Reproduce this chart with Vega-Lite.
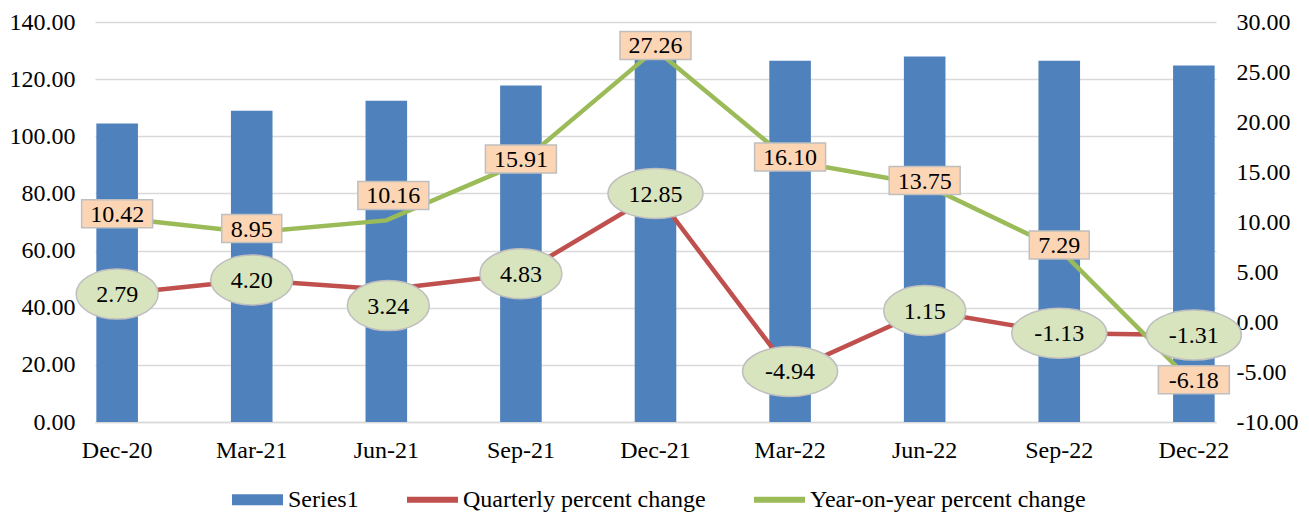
{
  "$schema": "https://vega.github.io/schema/vega-lite/v6.json",
  "width": 1121,
  "height": 400,
  "autosize": {"type": "none"},
  "padding": {"left": 95, "top": 22, "right": 93, "bottom": 92},
  "config": {
    "font": "Liberation Serif",
    "view": {"stroke": null},
    "locale": {"number": {"decimal": ".", "thousands": ",", "grouping": [3], "currency": ["$", ""], "minus": "-"}},
    "axis": {"labelFont": "Liberation Serif", "labelFontSize": 24, "labelColor": "#000000", "title": null}
  },
  "data": {
    "values": [
      {"q": "Dec-20", "series": "Series1", "value": 104.5},
      {"q": "Mar-21", "series": "Series1", "value": 108.9},
      {"q": "Jun-21", "series": "Series1", "value": 112.4},
      {"q": "Sep-21", "series": "Series1", "value": 117.8},
      {"q": "Dec-21", "series": "Series1", "value": 132.9},
      {"q": "Mar-22", "series": "Series1", "value": 126.4},
      {"q": "Jun-22", "series": "Series1", "value": 127.9},
      {"q": "Sep-22", "series": "Series1", "value": 126.4},
      {"q": "Dec-22", "series": "Series1", "value": 124.8},
      {"q": "Dec-20", "series": "Quarterly percent change", "value": 2.79},
      {"q": "Mar-21", "series": "Quarterly percent change", "value": 4.20},
      {"q": "Jun-21", "series": "Quarterly percent change", "value": 3.24},
      {"q": "Sep-21", "series": "Quarterly percent change", "value": 4.83},
      {"q": "Dec-21", "series": "Quarterly percent change", "value": 12.85},
      {"q": "Mar-22", "series": "Quarterly percent change", "value": -4.94},
      {"q": "Jun-22", "series": "Quarterly percent change", "value": 1.15},
      {"q": "Sep-22", "series": "Quarterly percent change", "value": -1.13},
      {"q": "Dec-22", "series": "Quarterly percent change", "value": -1.31},
      {"q": "Dec-20", "series": "Year-on-year percent change", "value": 10.42},
      {"q": "Mar-21", "series": "Year-on-year percent change", "value": 8.95},
      {"q": "Jun-21", "series": "Year-on-year percent change", "value": 10.16},
      {"q": "Sep-21", "series": "Year-on-year percent change", "value": 15.91},
      {"q": "Dec-21", "series": "Year-on-year percent change", "value": 27.26},
      {"q": "Mar-22", "series": "Year-on-year percent change", "value": 16.10},
      {"q": "Jun-22", "series": "Year-on-year percent change", "value": 13.75},
      {"q": "Sep-22", "series": "Year-on-year percent change", "value": 7.29},
      {"q": "Dec-22", "series": "Year-on-year percent change", "value": -6.18}
    ]
  },
  "encoding": {
    "x": {
      "field": "q", "type": "nominal", "sort": null,
      "scale": {"paddingInner": 0.691, "paddingOuter": 0.01},
      "axis": {"labelAngle": 0, "domain": true, "domainColor": "#D9D9D9", "domainWidth": 1.5, "ticks": false, "labelPadding": 16, "title": null}
    }
  },
  "layer": [
    {
      "transform": [{"filter": "datum.series == 'Series1'"}],
      "mark": {"type": "bar", "clip": false},
      "encoding": {
        "y": {
          "field": "value", "type": "quantitative",
          "scale": {"domain": [0, 140], "nice": false, "zero": false},
          "axis": {"values": [0, 20, 40, 60, 80, 100, 120, 140], "format": ".2f", "grid": true, "gridColor": "#D9D9D9", "gridWidth": 1.5, "domain": false, "ticks": false, "labelPadding": 20, "title": null}
        },
        "color": {
          "field": "series", "type": "nominal",
          "scale": {"domain": ["Series1", "Quarterly percent change", "Year-on-year percent change"], "range": ["#4F81BD", "#C0504D", "#9BBB59"]},
          "legend": {
            "title": null, "orient": "none", "direction": "horizontal", "legendX": 137, "legendY": 452,
            "columnPadding": 48, "labelFontSize": 24, "labelFont": "Liberation Serif", "labelColor": "#000000",
            "labelOffset": 5, "labelLimit": 0, "symbolSize": 2601, "symbolStrokeWidth": 0, "symbolOpacity": 1,
            "symbolType": "M-1,-0.12L1,-0.12L1,0.12L-1,0.12Z",
            "encode": {
              "symbols": {
                "update": {
                  "shape": {"signal": "datum.value === 'Series1' ? 'M-1,-0.22L1,-0.22L1,0.22L-1,0.22Z' : 'M-1,-0.12L1,-0.12L1,0.12L-1,0.12Z'"},
                  "fill": {"scale": "color", "field": "value"},
                  "strokeWidth": {"value": 0},
                  "opacity": {"value": 1}
                }
              }
            }
          }
        }
      }
    },
    {
      "encoding": {
        "y": {
          "field": "value", "type": "quantitative",
          "scale": {"domain": [-10, 30], "nice": false, "zero": false},
          "axis": {"orient": "right", "values": [-10, -5, 0, 5, 10, 15, 20, 25, 30], "format": ".2f", "grid": false, "domain": false, "ticks": false, "labelPadding": 20, "title": null}
        }
      },
      "layer": [
        {
          "transform": [{"filter": "datum.series == 'Quarterly percent change'"}],
          "mark": {"type": "line", "strokeWidth": 4.5},
          "encoding": {"color": {"field": "series", "type": "nominal"}}
        },
        {
          "transform": [{"filter": "datum.series == 'Year-on-year percent change'"}],
          "mark": {"type": "line", "strokeWidth": 4.5},
          "encoding": {"color": {"field": "series", "type": "nominal"}}
        },
        {
          "transform": [{"filter": "datum.series == 'Quarterly percent change' && datum.q != 'Jun-21'"}],
          "mark": {"type": "point", "filled": true, "fill": "#D7E4BD", "stroke": "#BFBFBF", "strokeWidth": 1.5, "opacity": 1},
          "encoding": {
            "shape": {"condition": {"test": "datum.value >= 0 && datum.value < 10", "value": "M1,0C1,0.337,0.552,0.61,0,0.61C-0.552,0.61,-1,0.337,-1,0C-1,-0.337,-0.552,-0.61,0,-0.61C0.552,-0.61,1,-0.337,1,0Z"}, "value": "M1,0C1,0.29,0.552,0.526,0,0.526C-0.552,0.526,-1,0.29,-1,0C-1,-0.29,-0.552,-0.526,0,-0.526C0.552,-0.526,1,-0.29,1,0Z"},
            "size": {"condition": {"test": "datum.value >= 0 && datum.value < 10", "value": 6724}, "value": 9025}
          }
        },
        {
          "transform": [{"filter": "datum.series == 'Quarterly percent change' && datum.q == 'Jun-21'"}],
          "mark": {"type": "point", "filled": true, "fill": "#D7E4BD", "stroke": "#BFBFBF", "strokeWidth": 1.5, "opacity": 1, "yOffset": 16, "xOffset": 2, "size": 6724, "shape": "M1,0C1,0.337,0.552,0.61,0,0.61C-0.552,0.61,-1,0.337,-1,0C-1,-0.337,-0.552,-0.61,0,-0.61C0.552,-0.61,1,-0.337,1,0Z"},
          "encoding": {}
        },
        {
          "transform": [{"filter": "datum.series == 'Quarterly percent change' && datum.q != 'Jun-21'"}],
          "mark": {"type": "text", "font": "Liberation Serif", "fontSize": 24, "color": "#000000", "baseline": "middle", "align": "center", "dy": 1},
          "encoding": {"text": {"field": "value", "type": "quantitative", "format": ".2f"}}
        },
        {
          "transform": [{"filter": "datum.series == 'Quarterly percent change' && datum.q == 'Jun-21'"}],
          "mark": {"type": "text", "font": "Liberation Serif", "fontSize": 24, "color": "#000000", "baseline": "middle", "align": "center", "dy": 17, "dx": 2},
          "encoding": {"text": {"field": "value", "type": "quantitative", "format": ".2f"}}
        },
        {
          "transform": [{"filter": "datum.series == 'Year-on-year percent change' && datum.q != 'Jun-21'"}],
          "mark": {"type": "point", "filled": true, "fill": "#FCD5B5", "stroke": "#BFBFBF", "strokeWidth": 1.5, "opacity": 1, "yOffset": -4},
          "encoding": {
            "shape": {"condition": {"test": "datum.value >= 0 && datum.value < 10", "value": "M-1,-0.467L1,-0.467L1,0.467L-1,0.467Z"}, "value": "M-1,-0.394L1,-0.394L1,0.394L-1,0.394Z"},
            "size": {"condition": {"test": "datum.value >= 0 && datum.value < 10", "value": 3600}, "value": 5041}
          }
        },
        {
          "transform": [{"filter": "datum.series == 'Year-on-year percent change' && datum.q != 'Jun-21'"}],
          "mark": {"type": "text", "font": "Liberation Serif", "fontSize": 24, "color": "#000000", "baseline": "middle", "align": "center", "dy": -3},
          "encoding": {"text": {"field": "value", "type": "quantitative", "format": ".2f"}}
        },
        {
          "transform": [{"filter": "datum.series == 'Year-on-year percent change' && datum.q == 'Jun-21'"}],
          "mark": {"type": "point", "filled": true, "fill": "#FCD5B5", "stroke": "#BFBFBF", "strokeWidth": 1.5, "opacity": 1, "yOffset": -25, "xOffset": 7, "size": 5041, "shape": "M-1,-0.394L1,-0.394L1,0.394L-1,0.394Z"},
          "encoding": {}
        },
        {
          "transform": [{"filter": "datum.series == 'Year-on-year percent change' && datum.q == 'Jun-21'"}],
          "mark": {"type": "text", "font": "Liberation Serif", "fontSize": 24, "color": "#000000", "baseline": "middle", "align": "center", "dy": -24, "dx": 7},
          "encoding": {"text": {"field": "value", "type": "quantitative", "format": ".2f"}}
        }
      ]
    }
  ],
  "resolve": {"scale": {"y": "independent"}}
}
